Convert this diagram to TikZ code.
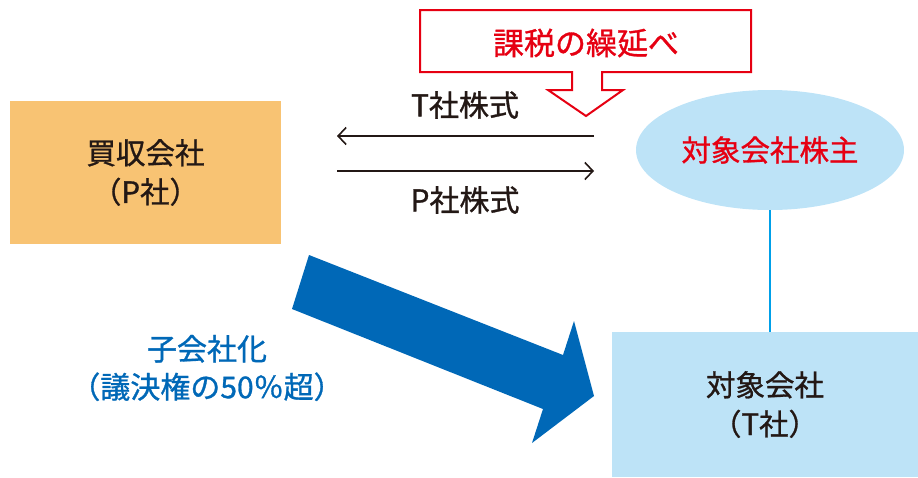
\documentclass[tikz,border=0pt]{standalone}
\usepackage{fontspec}
\setmainfont{Noto Sans CJK JP}[FakeBold=1]
\usetikzlibrary{arrows.meta,shapes.geometric}
\definecolor{borange}{HTML}{F8C373}
\definecolor{lblue}{HTML}{BDE3F7}
\definecolor{cred}{HTML}{E60012}
\definecolor{dblue}{HTML}{0068B7}
\definecolor{cyanl}{HTML}{00A0E9}
\definecolor{ink}{HTML}{231815}
\tikzset{
  boxnode/.style={inner sep=0pt, text=ink, align=center, font=\fontsize{29.5}{39}\selectfont},
  lbl/.style={inner sep=0pt, text=ink, font=\fontsize{30}{30}\selectfont},
  xfer/.style={line width=1.6pt, draw=ink, -{Straight Barb[length=8pt,width=17pt,line width=1.6pt]}},
}
\begin{document}
\begin{tikzpicture}[x=1pt,y=-1pt]
\useasboundingbox (0,0) rectangle (918,477);
% boxes
\node[boxnode, fill=borange, minimum width=271pt, minimum height=143pt] (P) at (145.5,172.5) {買収会社\\（P社）};
\node[boxnode, fill=lblue, minimum width=306pt, minimum height=145pt] (T) at (765,404.5) {対象会社\\（T社）};
\node[ellipse, fill=lblue, minimum width=268pt, minimum height=120pt, inner sep=0pt, text=cred, font=\fontsize{29.5}{30}\selectfont] (S) at (770,150) {対象会社株主};
% connector
\draw[cyanl, line width=2pt] (S.south) -- (S.south |- T.north);
% callout
\draw[cred, line width=2pt, fill=white]
  (420,10) -- (751,10) -- (751,72) -- (602,72) -- (602,90) -- (623,90) -- (586,116)
  -- (548,90) -- (572,90) -- (572,72) -- (420,72) -- cycle;
\node[inner sep=0pt, text=cred, font=\fontsize{31}{30}\selectfont] (C) at (586,43) {課税の繰延べ};
% share transfers
\coordinate (a1) at (594,136);
\coordinate (a2) at (337,136);
\coordinate (b1) at (337,171);
\coordinate (b2) at (594,171);
\draw[xfer] (a1) -- (a2);
\draw[xfer] (b1) -- (b2);
\node[lbl] (tl) at (465,105) {T社株式};
\node[lbl] (pl) at (465,200) {P社株式};
% big arrow
\fill[dblue] (309,255) -- (563,355) -- (574,321) -- (594,396) -- (532,443) -- (543,409) -- (292,309) -- cycle;
\node[inner sep=0pt, text=dblue, align=center, font=\fontsize{30}{38}\selectfont] (sub) at (207,368) {子会社化\\（議決権の50％超）};
\end{tikzpicture}
\end{document}
